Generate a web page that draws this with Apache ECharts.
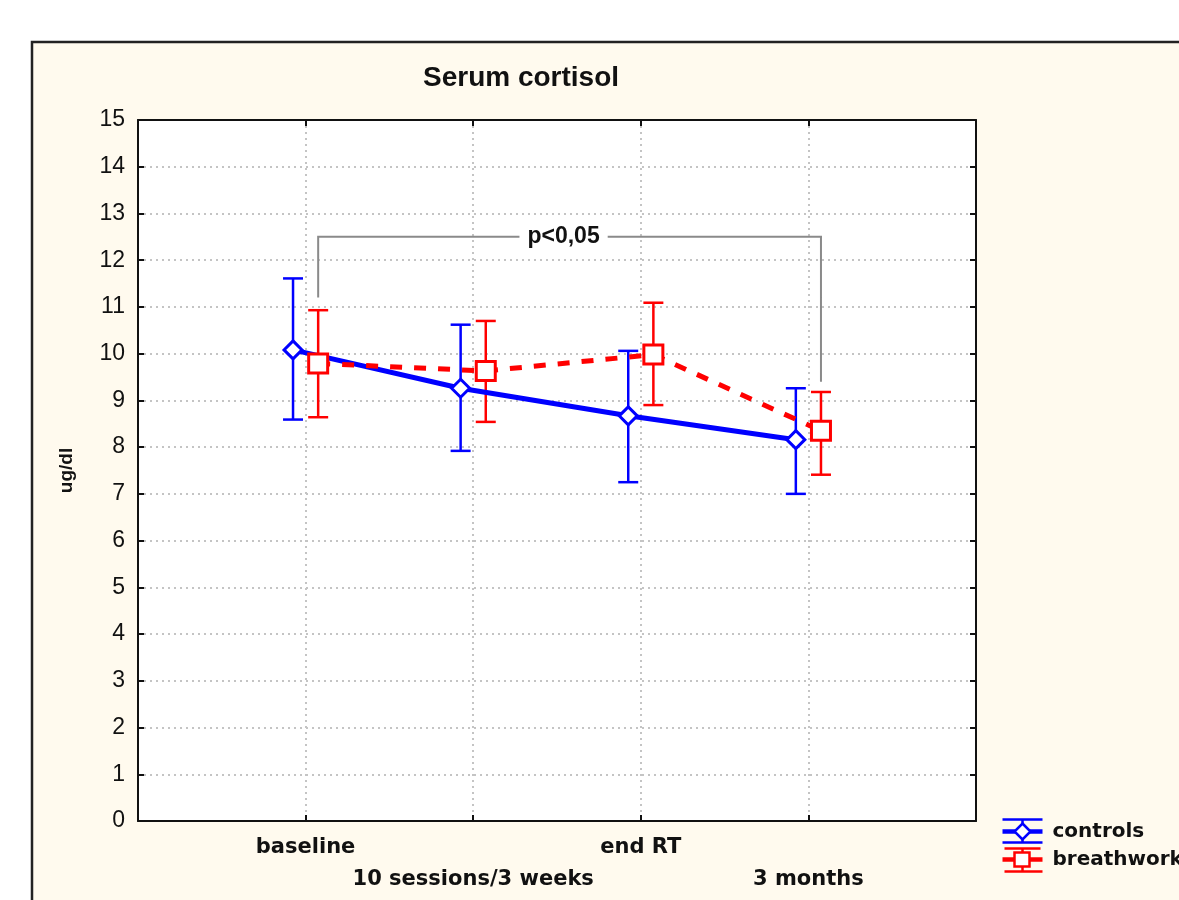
<!DOCTYPE html>
<html>
<head>
<meta charset="utf-8">
<title>Serum cortisol</title>
<script src="https://cdn.jsdelivr.net/npm/echarts@6/dist/echarts.min.js"></script>
<style>
  html, body { margin: 0; padding: 0; background: #ffffff; }
  #chart { width: 1179px; height: 900px; }
</style>
</head>
<body>
<div id="chart"></div>
<script>
// Time points along the x axis
const categories = ['baseline', '10 sessions/3 weeks', 'end RT', '3 months'];

// Serum cortisol (ug/dl): group means with lower / upper error limits
const controlsMean = [10.08, 9.26, 8.67, 8.16];
const controlsLow  = [8.59, 7.92, 7.25, 7.00];
const controlsHigh = [11.61, 10.62, 10.06, 9.26];

const breathMean = [9.79, 9.63, 9.98, 8.35];
const breathLow  = [8.64, 8.54, 8.90, 7.41];
const breathHigh = [10.93, 10.70, 11.09, 9.18];

// Significance bracket: baseline vs 3 months (breathwork)
const bracketText = 'p<0,05';
const bracketTop = 12.5;
const bracketLeftEnd = 11.2;
const bracketRightEnd = 9.4;

const yTicks = [0, 15, 1]; // min, max, step

// Horizontal dodge of the two groups around each time point
const dodge = 0.075;

const BLUE = '#0000ff';
const RED = '#ff0000';
const CREAM = '#fffaee';
const WIDE_BOLD = 'DejaVu Sans, Verdana, sans-serif';

const ctrlPts = controlsMean.map((v, i) => [i + 1 - dodge, v]);
const brPts = breathMean.map((v, i) => [i + 1 + dodge, v]);
const ctrlErr = controlsMean.map((v, i) => [i + 1 - dodge, controlsLow[i], controlsHigh[i]]);
const brErr = breathMean.map((v, i) => [i + 1 + dodge, breathLow[i], breathHigh[i]]);

function errorBars(color) {
  return function (params, api) {
    const x = api.value(0);
    const lo = api.coord([x, api.value(1)]);
    const hi = api.coord([x, api.value(2)]);
    const half = 10;
    const style = { stroke: color, lineWidth: 2.5 };
    return {
      type: 'group',
      children: [
        { type: 'line', shape: { x1: lo[0], y1: lo[1], x2: hi[0], y2: hi[1] }, style: style },
        { type: 'line', shape: { x1: hi[0] - half, y1: hi[1], x2: hi[0] + half, y2: hi[1] }, style: style },
        { type: 'line', shape: { x1: lo[0] - half, y1: lo[1], x2: lo[0] + half, y2: lo[1] }, style: style }
      ]
    };
  };
}

const chart = echarts.init(document.getElementById('chart'), null, { renderer: 'canvas' });

const lineBlack = { color: '#111', width: 2 };
const dotted = { color: '#c4c4c4', width: 2, type: [2, 4] };

chart.setOption({
  backgroundColor: '#ffffff',
  animation: false,
  title: {
    text: 'Serum cortisol',
    left: 418,
    top: 59,
    textStyle: {
      fontFamily: 'Liberation Sans, Arial, sans-serif',
      fontWeight: 'bold',
      fontSize: 28,
      color: '#111'
    }
  },
  graphic: [
    {
      type: 'rect',
      z: -10,
      silent: true,
      shape: { x: 32, y: 42, width: 1200, height: 900 },
      style: { fill: CREAM, stroke: '#222', lineWidth: 2.5 }
    },
    {
      type: 'group',
      left: 1000,
      top: 817,
      children: [
        // controls key
        { type: 'line', shape: { x1: 0, y1: 2, x2: 40, y2: 2 }, style: { stroke: BLUE, lineWidth: 2.5 } },
        { type: 'line', shape: { x1: 0, y1: 25, x2: 40, y2: 25 }, style: { stroke: BLUE, lineWidth: 2.5 } },
        { type: 'line', shape: { x1: 20, y1: 2, x2: 20, y2: 25 }, style: { stroke: BLUE, lineWidth: 2.5 } },
        { type: 'line', shape: { x1: 0, y1: 14, x2: 40, y2: 14 }, style: { stroke: BLUE, lineWidth: 4.5 } },
        { type: 'polygon', shape: { points: [[20, 6], [28, 14], [20, 22], [12, 14]] }, style: { fill: '#fff', stroke: BLUE, lineWidth: 2.5 } },
        { type: 'text', x: 50, y: 14, style: { text: 'controls', font: 'bold 20px ' + WIDE_BOLD, fill: '#111', verticalAlign: 'middle' } },
        // breathwork key
        { type: 'line', shape: { x1: 2, y1: 31, x2: 38, y2: 31 }, style: { stroke: RED, lineWidth: 2.5 } },
        { type: 'line', shape: { x1: 2, y1: 54, x2: 40, y2: 54 }, style: { stroke: RED, lineWidth: 2.5 } },
        { type: 'line', shape: { x1: 20, y1: 31, x2: 20, y2: 54 }, style: { stroke: RED, lineWidth: 2.5 } },
        { type: 'line', shape: { x1: 0, y1: 42, x2: 40, y2: 42 }, style: { stroke: RED, lineWidth: 4.5 } },
        { type: 'rect', shape: { x: 12, y: 35, width: 15, height: 14 }, style: { fill: '#fff', stroke: RED, lineWidth: 2.5 } },
        { type: 'text', x: 50, y: 42, style: { text: 'breathwork', font: 'bold 20px ' + WIDE_BOLD, fill: '#111', verticalAlign: 'middle' } }
      ]
    }
  ],
  grid: {
    left: 138,
    right: 1179 - 976,
    top: 120,
    bottom: 900 - 821,
    show: true,
    backgroundColor: '#ffffff',
    borderWidth: 0
  },
  xAxis: [
    {
      type: 'value',
      position: 'bottom',
      min: 0,
      max: categories.length + 1,
      interval: 1,
      axisLine: { show: true, onZero: false, lineStyle: lineBlack },
      axisTick: { show: true, inside: true, length: 6, lineStyle: lineBlack },
      splitLine: { show: true, showMinLine: false, showMaxLine: false, lineStyle: dotted },
      axisLabel: {
        fontFamily: WIDE_BOLD,
        color: '#111',
        fontSize: 21,
        fontWeight: 'bold',
        lineHeight: 32,
        margin: 11,
        showMinLabel: true,
        showMaxLabel: true,
        formatter: function (v) {
          const i = Math.round(v) - 1;
          if (i < 0 || i >= categories.length) return '';
          return i % 2 ? '\n' + categories[i] : categories[i];
        }
      }
    },
    {
      type: 'value',
      position: 'top',
      min: 0,
      max: categories.length + 1,
      interval: 1,
      axisLine: { show: true, onZero: false, lineStyle: lineBlack },
      axisTick: { show: true, inside: true, length: 6, lineStyle: lineBlack },
      splitLine: { show: false },
      axisLabel: { show: false }
    }
  ],
  yAxis: [
    {
      type: 'value',
      position: 'left',
      min: yTicks[0],
      max: yTicks[1],
      interval: yTicks[2],
      name: 'ug/dl',
      nameLocation: 'middle',
      nameRotate: 90,
      nameGap: 62,
      nameTextStyle: {
        fontFamily: 'Liberation Sans, Arial, sans-serif',
        fontWeight: 'bold',
        fontSize: 19,
        color: '#111'
      },
      axisLine: { show: true, onZero: false, lineStyle: lineBlack },
      axisTick: { show: true, inside: true, length: 6, lineStyle: lineBlack },
      splitLine: { show: true, showMinLine: false, showMaxLine: false, lineStyle: dotted },
      axisLabel: {
        fontFamily: 'Liberation Sans, Arial, sans-serif',
        color: '#111',
        fontSize: 23,
        margin: 13
      }
    },
    {
      type: 'value',
      position: 'right',
      min: yTicks[0],
      max: yTicks[1],
      interval: yTicks[2],
      axisLine: { show: true, onZero: false, lineStyle: lineBlack },
      axisTick: { show: true, inside: true, length: 6, lineStyle: lineBlack },
      splitLine: { show: false },
      axisLabel: { show: false }
    }
  ],
  series: [
    {
      name: 'controls error',
      type: 'custom',
      xAxisIndex: 0,
      yAxisIndex: 0,
      renderItem: errorBars(BLUE),
      data: ctrlErr,
      z: 2
    },
    {
      name: 'breathwork error',
      type: 'custom',
      xAxisIndex: 0,
      yAxisIndex: 0,
      renderItem: errorBars(RED),
      data: brErr,
      z: 2
    },
    {
      name: 'controls',
      type: 'line',
      xAxisIndex: 0,
      yAxisIndex: 0,
      data: ctrlPts,
      symbol: 'diamond',
      symbolSize: 18,
      showAllSymbol: true,
      lineStyle: { color: BLUE, width: 5 },
      itemStyle: { color: '#ffffff', borderColor: BLUE, borderWidth: 3 },
      z: 3
    },
    {
      name: 'breathwork',
      type: 'line',
      xAxisIndex: 0,
      yAxisIndex: 0,
      data: brPts,
      symbol: 'rect',
      symbolSize: 19,
      showAllSymbol: true,
      lineStyle: { color: RED, width: 5, type: [12, 12] },
      itemStyle: { color: '#ffffff', borderColor: RED, borderWidth: 3 },
      z: 4
    },
    {
      name: 'significance',
      type: 'custom',
      xAxisIndex: 0,
      yAxisIndex: 0,
      silent: true,
      z: 5,
      data: [[1 + dodge, bracketLeftEnd, bracketTop, categories.length + dodge, bracketRightEnd]],
      renderItem: function (params, api) {
        const xl = api.value(0), yl = api.value(1), yt = api.value(2), xr = api.value(3), yr = api.value(4);
        const a = api.coord([xl, yl]);
        const b = api.coord([xl, yt]);
        const c = api.coord([xr, yt]);
        const d = api.coord([xr, yr]);
        const mid = (b[0] + c[0]) / 2 - 6;
        return {
          type: 'group',
          children: [
            { type: 'polyline', shape: { points: [a, b, c, d] }, style: { stroke: '#8a8a8a', lineWidth: 2, fill: null } },
            {
              type: 'text',
              x: mid,
              y: b[1],
              style: {
                text: bracketText,
                font: 'bold 23px Liberation Sans Narrow, Arial Narrow, Liberation Sans, sans-serif',
                fill: '#111',
                align: 'center',
                verticalAlign: 'middle',
                backgroundColor: '#ffffff',
                padding: [2, 8]
              }
            }
          ]
        };
      }
    }
  ]
});
</script>
</body>
</html>
